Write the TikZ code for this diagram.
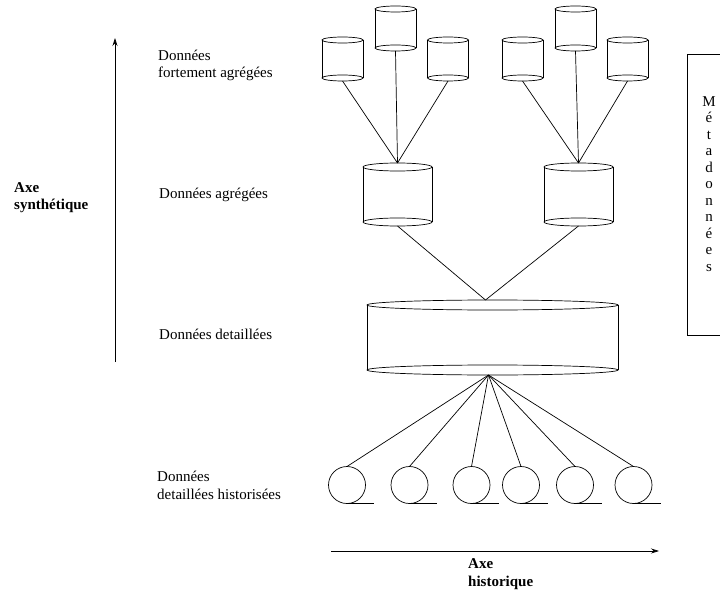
\documentclass[tikz,border=0pt]{standalone}
\usepackage{fontspec}
\setmainfont{Liberation Serif}
\usetikzlibrary{arrows.meta}

% Cylinder: invisible body node plus two full ellipses and two sides.
% #1 name, #2 x, #3 y, #4 width, #5 distance between ellipse centres, #6 ellipse y radius
\newcommand\dbcylinder[6]{%
  \node[cylbody, minimum width=#4pt, minimum height=#5pt+2*#6pt] (#1) at (#2,#3) {};
  \draw[ln] ([yshift=-#6pt]#1.north) ellipse [x radius=#4pt/2, y radius=#6pt];
  \draw[ln] ([yshift=#6pt]#1.south) ellipse [x radius=#4pt/2, y radius=#6pt];
  \draw[ln] ([yshift=-#6pt]#1.north west) -- ([yshift=#6pt]#1.south west);
  \draw[ln] ([yshift=-#6pt]#1.north east) -- ([yshift=#6pt]#1.south east);
}
% Historised store: circle with a short underline from its bottom
\newcommand\histstore[3]{%
  \node[histcircle] (#1) at (#2,#3) {};
  \draw[ln] (#1.south) -- ++(27,0);
}

\tikzset{
  ln/.style={line width=0.7pt, black},
  cylbody/.style={draw=none, inner sep=0pt, outer sep=0pt, rectangle},
  histcircle/.style={draw, line width=0.7pt, circle, minimum size=37pt, inner sep=0pt, outer sep=0pt},
  link/.style={line width=0.7pt},
  % base anchor of a multi-line node sits on its last line
  lbl/.style={inner sep=0pt, anchor=base west, align=left,
    font=\fontsize{15}{17.5}\selectfont},
  blbl/.style={lbl, font=\fontsize{15}{17.5}\selectfont\bfseries},
  axis/.style={line width=0.7pt, -{Stealth[length=8pt, width=5pt]}},
}

\begin{document}
\begin{tikzpicture}[x=1pt, y=-1pt]
\useasboundingbox (0,0) rectangle (720,596);

% highly aggregated stores
\dbcylinder{s1}{342.5}{59}{41}{38}{3}
\dbcylinder{s2}{395.5}{28.5}{41}{39}{3}
\dbcylinder{s3}{448}{59}{41}{38}{3}
\dbcylinder{s4}{522.5}{59}{41}{38}{3}
\dbcylinder{s5}{575.5}{28.5}{41}{39}{3}
\dbcylinder{s6}{627.5}{59}{41}{38}{3}

% aggregated stores
\dbcylinder{m1}{397.5}{194.5}{69}{55}{4}
\dbcylinder{m2}{578.5}{194.5}{69}{55}{4}

% detailed store
\dbcylinder{big}{492.5}{337.5}{251}{65}{5}

% historised detailed stores
\histstore{h1}{347}{485}
\histstore{h2}{409.5}{485}
\histstore{h3}{471.5}{485}
\histstore{h4}{521}{485}
\histstore{h5}{575}{485}
\histstore{h6}{633.5}{485}

% links between levels
\foreach \s in {s1,s2,s3} \draw[link] (\s.south) -- (m1.north);
\foreach \s in {s4,s5,s6} \draw[link] (\s.south) -- (m2.north);
\coordinate (bigtop) at ([xshift=-7pt]big.north);
\coordinate (bigbot) at ([xshift=-4pt]big.south);
\draw[link] (m1.south) -- (bigtop);
\draw[link] (m2.south) -- (bigtop);
\foreach \h in {h1,h2,h3,h4,h5,h6} \draw[link] (bigbot) -- (\h.north);

% level labels
\node[lbl] (l1) at (158,78) {Données\\fortement agrégées};
\node[lbl] (l2) at (159,199) {Données agrégées};
\node[lbl] (l3) at (159,339) {Données detaillées};
\node[lbl] (l4) at (157,499) {Données\\detaillées historisées};

% axes
\coordinate (vstart) at (115,362);
\coordinate (vend) at (115,38);
\draw[axis] (vstart) -- (vend);
\node[blbl] (vlab) at (14,210) {Axe\\synthétique};

\coordinate (hstart) at (331,551);
\coordinate (hend) at (659,551);
\draw[axis] (hstart) -- (hend);
\node[blbl] (hlab) at (468,586) {Axe\\historique};

% metadata panel
\draw[ln] (720,54) -- (687,54) -- (687,335) -- (720,335);
\node[inner sep=0pt, anchor=base, align=center,
  font=\fontsize{15}{16.5}\selectfont] (meta) at (709,271)
  {M\\é\\t\\a\\d\\o\\n\\n\\é\\e\\s};
\end{tikzpicture}
\end{document}
